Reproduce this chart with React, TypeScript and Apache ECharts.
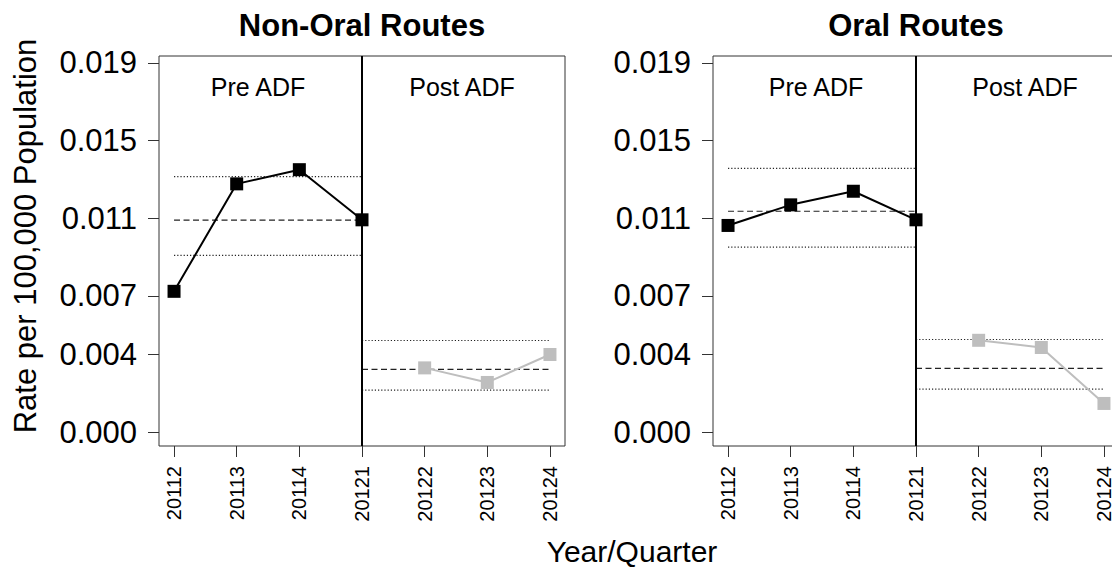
import React, { useEffect, useRef } from "react";
import * as echarts from "echarts";

// ---- Data ----
const categories = ["20112", "20113", "20114", "20121", "20122", "20123", "20124"];
const yTickValues = [0, 0.004, 0.007, 0.011, 0.015, 0.019];

const nonOralPre = [0.00724, 0.01277, 0.0135, 0.01092];
const nonOralPost = [0.0033, 0.00255, 0.00399];
// [lower bound, mean, upper bound]
const nonOralPreRef = [0.00909, 0.0109, 0.01314];
const nonOralPostRef = [0.00216, 0.00322, 0.00471];

const oralPre = [0.01063, 0.01169, 0.01239, 0.01092];
const oralPost = [0.00472, 0.00435, 0.00147];
const oralPreRef = [0.00951, 0.01136, 0.01357];
const oralPostRef = [0.00221, 0.00327, 0.00476];

const panelTitles = ["Non-Oral Routes", "Oral Routes"];
const periodLabels = ["Pre ADF", "Post ADF"];

// ---- Layout ----
const FONT = "'Liberation Sans', Arial, Helvetica, sans-serif";
const GRID_TOP = 56;
const GRID_H = 390;
const GRID_W = 406;
const panelLefts = [159, 713];
const periodLabelOffsets = [
  [99, 303],
  [103, 312],
];

export default function App() {
  const ref = useRef<HTMLDivElement>(null);

  useEffect(() => {
    if (!ref.current) return;
    const chart = echarts.init(ref.current, undefined, { renderer: "svg" });

    const panels = [
      { pre: nonOralPre, post: nonOralPost, preRef: nonOralPreRef, postRef: nonOralPostRef },
      { pre: oralPre, post: oralPost, preRef: oralPreRef, postRef: oralPostRef },
    ];
    const nCat = categories.length;
    const pad = (nCat - 1) * 0.04;

    const grids: any[] = [];
    const xAxes: any[] = [];
    const yAxes: any[] = [];
    const series: any[] = [];
    const graphics: any[] = [];

    panels.forEach((p, i) => {
      grids.push({
        left: panelLefts[i],
        top: GRID_TOP,
        width: GRID_W,
        height: GRID_H,
        show: true,
        borderColor: "#333",
        borderWidth: 1,
        backgroundColor: "transparent",
        containLabel: false,
        outerBoundsMode: "none",
      });
      xAxes.push({
        type: "value",
        gridIndex: i,
        position: "bottom",
        min: -pad,
        max: nCat - 1 + pad,
        splitLine: { show: false },
        axisLine: { show: false, onZero: false },
        axisTick: {
          show: true,
          inside: false,
          customValues: categories.map((_, k) => k),
          length: 11,
          lineStyle: { color: "#333", width: 1 },
        },
        axisLabel: {
          customValues: categories.map((_, k) => k),
          formatter: (v: number) => categories[Math.round(v)] ?? "",
          rotate: 90,
          margin: 20,
          fontSize: 20,
          color: "#000",
          fontFamily: FONT,
        },
      });
      yAxes.push({
        type: "value",
        gridIndex: i,
        position: "left",
        min: -0.00072,
        max: 0.01935,
        splitLine: { show: false },
        axisLine: { show: false, onZero: false },
        axisTick: {
          show: true,
          inside: false,
          customValues: yTickValues,
          length: 11,
          lineStyle: { color: "#333", width: 1 },
        },
        axisLabel: {
          customValues: yTickValues,
          formatter: (v: number) => v.toFixed(3),
          margin: 22,
          fontSize: 31,
          color: "#000",
          fontFamily: FONT,
        },
      });

      const refLine = (vals: number[], x0: number, x1: number) =>
        vals.map((v, k) => ({
          type: "line",
          xAxisIndex: i,
          yAxisIndex: i,
          data: [
            [x0, v],
            [x1, v],
          ],
          symbol: "none",
          silent: true,
          z: 1,
          lineStyle: {
            color: "#222",
            width: 1.2,
            type: k === 1 ? [6, 3.5] : [1.2, 2],
          },
        }));
      const split = p.pre.length - 1;
      series.push(...refLine(p.preRef, 0, split));
      series.push(...refLine(p.postRef, split, nCat - 1));

      series.push({
        type: "line",
        xAxisIndex: i,
        yAxisIndex: i,
        data: p.pre.map((v, k) => [k, v]),
        symbol: "rect",
        symbolSize: 13,
        showAllSymbol: true,
        z: 3,
        itemStyle: { color: "#000" },
        lineStyle: { color: "#000", width: 2 },
        markLine: {
          silent: true,
          symbol: "none",
          label: { show: false },
          lineStyle: { color: "#000", width: 2, type: "solid" },
          data: [{ xAxis: split }],
        },
      });
      series.push({
        type: "line",
        xAxisIndex: i,
        yAxisIndex: i,
        data: p.post.map((v, k) => [k + p.pre.length, v]),
        symbol: "rect",
        symbolSize: 13,
        showAllSymbol: true,
        z: 3,
        itemStyle: { color: "#bebebe" },
        lineStyle: { color: "#bebebe", width: 2 },
      });

      graphics.push({
        type: "text",
        x: panelLefts[i] + GRID_W / 2,
        y: 25,
        style: {
          text: panelTitles[i],
          font: `bold 31px ${FONT}`,
          fill: "#000",
          textAlign: "center",
          textVerticalAlign: "middle",
        },
      });
      periodLabels.forEach((lbl, k) => {
        graphics.push({
          type: "text",
          x: panelLefts[i] + periodLabelOffsets[i][k],
          y: 87,
          style: {
            text: lbl,
            font: `25px ${FONT}`,
            fill: "#000",
            textAlign: "center",
            textVerticalAlign: "middle",
          },
        });
      });
    });

    graphics.push({
      type: "text",
      x: 25,
      y: 236,
      rotation: Math.PI / 2,
      style: {
        text: "Rate per 100,000 Population",
        font: `31px ${FONT}`,
        fill: "#000",
        textAlign: "center",
        textVerticalAlign: "middle",
      },
    });
    graphics.push({
      type: "text",
      x: 632,
      y: 551,
      style: {
        text: "Year/Quarter",
        font: `30px ${FONT}`,
        fill: "#000",
        textAlign: "center",
        textVerticalAlign: "middle",
      },
    });

    chart.setOption({
      animation: false,
      backgroundColor: "#fff",
      textStyle: { fontFamily: FONT },
      grid: grids,
      xAxis: xAxes,
      yAxis: yAxes,
      series,
      graphic: graphics,
    });

    return () => chart.dispose();
  }, []);

  return (
    <div
      ref={ref}
      style={{ position: "fixed", left: 0, top: 0, width: 1112, height: 568 }}
    />
  );
}
